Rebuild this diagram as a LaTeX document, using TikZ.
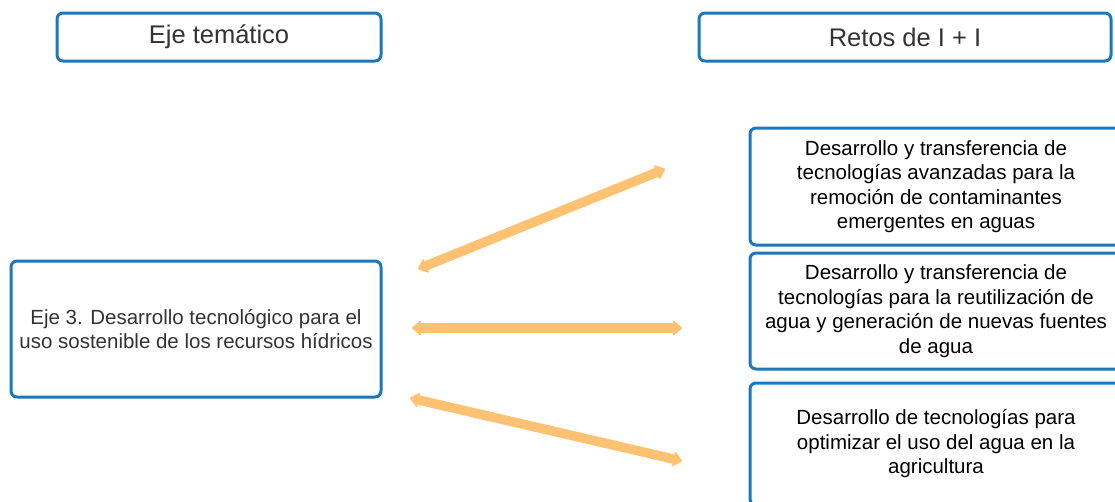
\documentclass[tikz,border=0pt]{standalone}
\usepackage{fontspec}
\setmainfont{Liberation Sans}
\usetikzlibrary{arrows.meta}
\definecolor{boxblue}{HTML}{1C78BE}
\definecolor{arrorange}{HTML}{FFC272}
\definecolor{txtgray}{HTML}{333333}
\tikzset{
  box/.style={draw=boxblue, line width=3pt, rounded corners=6pt, fill=white, inner sep=0pt, align=center},
  titlebox/.style={box, font=\fontsize{25.5}{29}\selectfont, text=txtgray},
  bodybox/.style={box, font=\fontsize{20.5}{24.5}\selectfont},
  biarrow/.style={draw=arrorange, line width=9.5pt,
    {Stealth[width=19pt,length=11pt,inset=4pt,round]}-{Stealth[width=19pt,length=11pt,inset=4pt,round]}}
}
\begin{document}
\begin{tikzpicture}[x=1pt,y=-1pt]
\useasboundingbox (0,0) rectangle (1115,501);
\clip (0,0) rectangle (1115,501);
\node[titlebox, minimum width=324pt, minimum height=48pt] (t1) at (219,37) {Eje temático};
\node[titlebox, minimum width=412pt, minimum height=48pt] (t2) at (905,37) {Retos de I + I};
\node[bodybox, text=txtgray, minimum width=370pt, minimum height=136pt] (eje) at (196,329)
  {Eje 3. Desarrollo tecnológico para el\\uso sostenible de los recursos hídricos};
\node[bodybox, text=black, minimum width=372pt, minimum height=117pt] (r1) at (936,186.5)
  {Desarrollo y transferencia de\\tecnologías avanzadas para la\\remoción de contaminantes\\emergentes en aguas};
\node[bodybox, text=black, minimum width=372pt, minimum height=116pt] (r2) at (936,311)
  {Desarrollo y transferencia de\\tecnologías para la reutilización de\\agua y generación de nuevas fuentes\\de agua};
\node[bodybox, text=black, minimum width=372pt, minimum height=122pt] (r3) at (936,444)
  {Desarrollo de tecnologías para\\optimizar el uso del agua en la\\agricultura};
\coordinate (a1s) at (418,269);
\coordinate (a1e) at (665,169);
\coordinate (a2s) at (412,328);
\coordinate (a2e) at (682,328);
\coordinate (a3s) at (410,398);
\coordinate (a3e) at (682,461);
\draw[biarrow] (a1s) -- (a1e);
\draw[biarrow] (a2s) -- (a2e);
\draw[biarrow] (a3s) -- (a3e);
\end{tikzpicture}
\end{document}
